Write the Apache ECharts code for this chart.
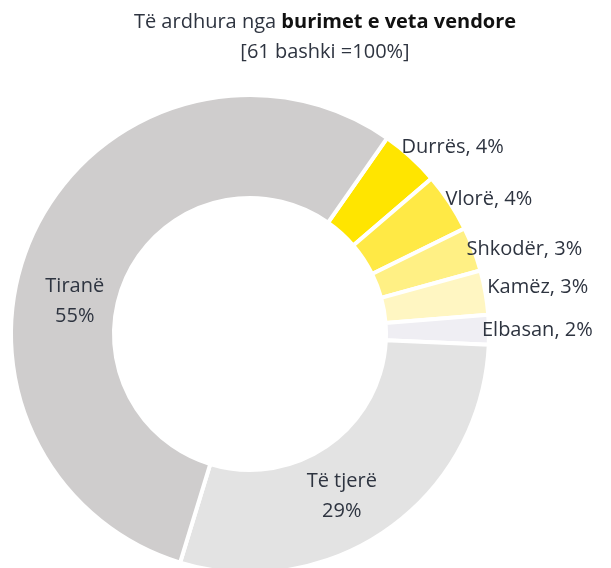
<!DOCTYPE html>
<html>
<head>
<meta charset="utf-8">
<script src="https://cdn.jsdelivr.net/npm/echarts@6/dist/echarts.min.js"></script>
<style>
  html, body { margin: 0; padding: 0; background: #fff; }
  #chart { width: 611px; height: 568px; }
</style>
</head>
<body>
<div id="chart"></div>
<script>
// te dhenat
var bashkite = ['Durrës', 'Vlorë', 'Shkodër', 'Kamëz', 'Elbasan', 'Të tjerë', 'Tiranë'];
var perqindjet = [4, 4, 3, 3, 2, 29, 55];
var ngjyrat = ['#ffe500', '#ffe945', '#fff084', '#fff6c2', '#efeef3', '#e3e3e3', '#cfcdcd'];
// zhvendosja e etiketave (vetem per pamjen)
var zhvendosjet = [[-14, -10], [-9, -3], [-12, 0], [-3, -5], [-12, 0], [-18, 7], [-4, 51]];

var fontFam = '"Open Sans", Lato, sans-serif';
var tekstNgjyra = '#2e3440';

var chart = echarts.init(document.getElementById('chart'));

var te_dhenat = bashkite.map(function (emri, i) {
    var item = {
        name: emri,
        value: perqindjet[i],
        itemStyle: { color: ngjyrat[i] },
        label: { offset: zhvendosjet[i] }
    };
    if (i >= 5) {
        // etiketat brenda per dy pjeset e medha
        item.label.position = 'inside';
        item.label.formatter = '{b}\n{c}%';
        item.label.lineHeight = 30;
    }
    return item;
});

chart.setOption({
    animation: false,
    graphic: [
        {
            type: 'text',
            x: 325, y: 22,
            style: {
                text: '{n|Të ardhura nga }{b|burimet e veta vendore}',
                align: 'center',
                verticalAlign: 'middle',
                rich: {
                    n: { fontFamily: fontFam, fontSize: 20, fill: tekstNgjyra, color: tekstNgjyra },
                    b: { fontFamily: fontFam, fontSize: 20, fontWeight: 'bold', fill: '#111', color: '#111' }
                }
            }
        },
        {
            type: 'text',
            x: 325, y: 52,
            style: {
                text: '[61 bashki =100%]',
                align: 'center',
                verticalAlign: 'middle',
                font: '20px ' + fontFam,
                fill: tekstNgjyra
            }
        }
    ],
    series: [{
        type: 'pie',
        center: [250, 334],
        radius: [136, 239],
        startAngle: 55,
        clockwise: true,
        avoidLabelOverlap: false,
        itemStyle: { borderColor: '#fff', borderWidth: 4 },
        label: {
            show: true,
            position: 'outside',
            formatter: '{b}, {c}%',
            fontFamily: fontFam,
            fontSize: 20,
            color: tekstNgjyra
        },
        labelLine: { show: false, length: 0, length2: 0 },
        data: te_dhenat
    }]
});
</script>
</body>
</html>
